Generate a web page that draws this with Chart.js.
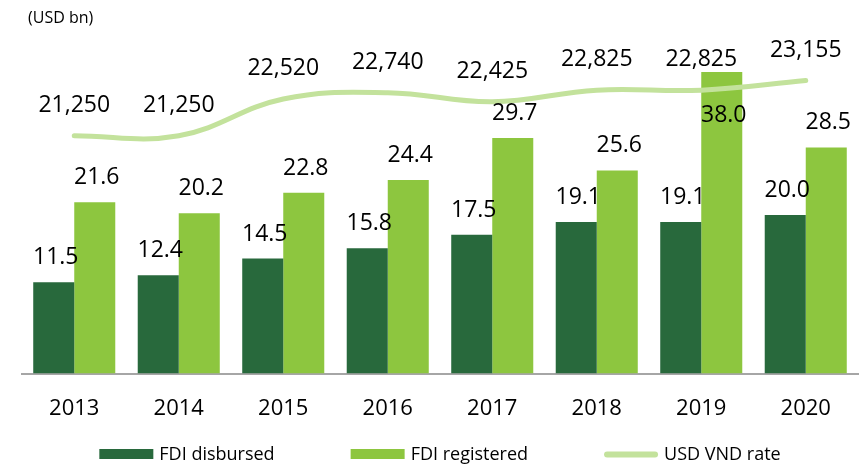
<!DOCTYPE html>
<html>
<head>
<meta charset="utf-8">
<title>FDI</title>
<script src="https://cdn.jsdelivr.net/npm/chart.js@4/dist/chart.umd.min.js"></script>
<style>
    body { margin: 0; background: #fff; }
    #contenedor { width: 860px; height: 465px; position: relative; }
</style>
</head>
<body>
<div id="contenedor"><canvas id="grafico"></canvas></div>
<script>
const years = ['2013', '2014', '2015', '2016', '2017', '2018', '2019', '2020'];
const fdiDisbursed = [11.5, 12.4, 14.5, 15.8, 17.5, 19.1, 19.1, 20.0];
const fdiRegistered = [21.6, 20.2, 22.8, 24.4, 29.7, 25.6, 38.0, 28.5];
const usdVndRate = [21250, 21250, 22520, 22740, 22425, 22825, 22825, 23155];
const seriesNames = ['FDI disbursed', 'FDI registered', 'USD VND rate'];

const colorOscuro = '#28693c';
const colorClaro = '#8dc63f';
const colorLinea = '#c3e29c';

Chart.defaults.font.family = "'Open Sans', sans-serif";
Chart.defaults.color = '#000';

// etiquetas de valores, leyenda y unidad
const etiquetas = {
    id: 'etiquetas',
    afterDatasetsDraw(chart) {
        const ctx = chart.ctx;
        const lineMeta = chart.getDatasetMeta(2);
        ctx.save();
        ctx.font = "23px 'Open Sans'";
        ctx.fillStyle = '#000';
        ctx.textAlign = 'center';
        ctx.textBaseline = 'alphabetic';

        [0, 1].forEach(function (i) {
            const meta = chart.getDatasetMeta(i);
            const valores = chart.data.datasets[i].data;
            meta.data.forEach(function (bar, j) {
                const lineY = lineMeta.data[j].y;
                let y = bar.y - 18;
                // si la barra pasa por encima de la linea, la etiqueta va dentro
                if (i === 1 && bar.y < lineY) {
                    y = lineY + 32;
                }
                ctx.fillText(valores[j].toFixed(1), bar.x + 2, y);
            });
        });

        lineMeta.data.forEach(function (pt, j) {
            ctx.fillText(usdVndRate[j].toLocaleString('en-US'), pt.x, pt.y - 24);
        });
        ctx.restore();
    },
    afterDraw(chart) {
        const ctx = chart.ctx;
        const area = chart.chartArea;
        ctx.save();

        ctx.font = "16px 'Open Sans'";
        ctx.fillStyle = '#000';
        ctx.textAlign = 'left';
        ctx.textBaseline = 'alphabetic';
        ctx.fillText('(USD bn)', 28, 23);

        ctx.font = "18px 'Open Sans'";
        const caja = 54, hueco = 6, espacio = 76;
        const anchos = seriesNames.map(n => ctx.measureText(n).width);
        let total = espacio * (seriesNames.length - 1);
        anchos.forEach(w => total += caja + hueco + w);
        let x = (area.left + area.right) / 2 - total / 2;
        const yc = 454;

        seriesNames.forEach(function (nombre, i) {
            const ds = chart.data.datasets[i];
            if (ds.type === 'line') {
                ctx.strokeStyle = ds.borderColor;
                ctx.lineWidth = 6;
                ctx.lineCap = 'round';
                ctx.beginPath();
                ctx.moveTo(x + 3, yc + 0.5);
                ctx.lineTo(x + caja - 3, yc + 0.5);
                ctx.stroke();
            } else {
                ctx.fillStyle = ds.backgroundColor;
                ctx.fillRect(x, yc - 5, caja, 10);
            }
            ctx.fillStyle = '#000';
            ctx.fillText(nombre, x + caja + hueco, 460);
            x += caja + hueco + anchos[i] + espacio;
        });
        ctx.restore();
    }
};

const ctx = document.getElementById('grafico');

graficoFDI = new Chart(ctx, {
    type: 'bar',
    data: {
        labels: years,
        datasets: [{
            label: seriesNames[0],
            data: fdiDisbursed,
            backgroundColor: colorOscuro,
            yAxisID: 'y',
            order: 1
        }, {
            label: seriesNames[1],
            data: fdiRegistered,
            backgroundColor: colorClaro,
            yAxisID: 'y',
            order: 1
        }, {
            type: 'line',
            label: seriesNames[2],
            data: usdVndRate,
            borderColor: colorLinea,
            borderWidth: 5,
            borderCapStyle: 'round',
            tension: 0.4,
            pointRadius: 0,
            fill: false,
            yAxisID: 'y1',
            order: 0
        }]
    },
    options: {
        responsive: true,
        maintainAspectRatio: false,
        animation: false,
        layout: {
            padding: { top: 30, left: 22, right: 2, bottom: 21 }
        },
        datasets: {
            bar: {
                barPercentage: 1,
                categoryPercentage: 0.785
            }
        },
        plugins: {
            legend: { display: false },
            tooltip: { enabled: false }
        },
        scales: {
            x: {
                grid: { display: false, drawTicks: false },
                border: { display: true, color: '#a6a6a6', width: 2 },
                ticks: {
                    padding: 22,
                    color: '#000',
                    font: { size: 22 }
                }
            },
            y: {
                display: false,
                min: 0,
                max: 43.3
            },
            y1: {
                display: false,
                min: 13050,
                max: 24900
            }
        }
    },
    plugins: [etiquetas]
});
</script>
</body>
</html>
